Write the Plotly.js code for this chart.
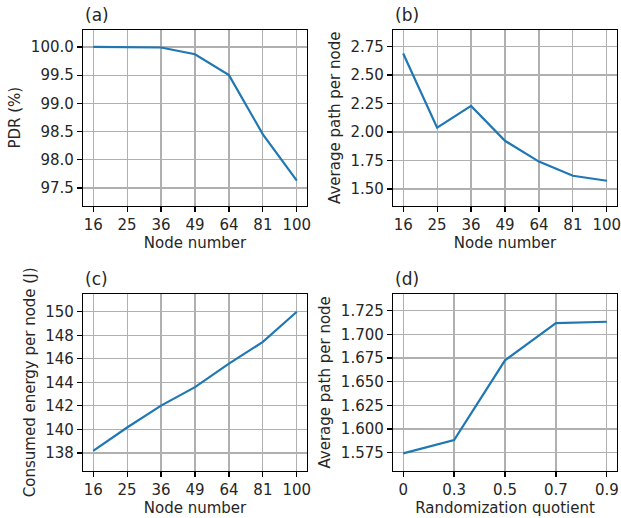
<!DOCTYPE html>
<html>
<head>
<meta charset="utf-8">
<script src="https://cdn.plot.ly/plotly-3.0.1.min.js"></script>
<style>html,body{margin:0;padding:0;background:#fff;}#chart{width:621px;height:518px;}</style>
</head>
<body>
<div id="chart"></div>
<script>
// ---- data ----
const nodeNumbers = ["16", "25", "36", "49", "64", "81", "100"];
const pdrValues = [100.0, 100.0, 99.99, 99.87, 99.5, 98.45, 97.63];
const avgPathByNode = [2.688, 2.038, 2.229, 1.923, 1.741, 1.617, 1.573];
const energyPerNode = [138.17, 140.16, 142.02, 143.59, 145.59, 147.44, 150.0];
const randQuotients = ["0", "0.3", "0.5", "0.7", "0.9"];
const avgPathByRand = [1.5743, 1.5883, 1.6725, 1.7118, 1.7133];

const pdrTicks = [97.5, 98.0, 98.5, 99.0, 99.5, 100.0];
const pathTicks = [1.50, 1.75, 2.00, 2.25, 2.50, 2.75];
const energyTicks = [138, 140, 142, 144, 146, 148, 150];
const randPathTicks = [1.575, 1.600, 1.625, 1.650, 1.675, 1.700, 1.725];

const lineColor = "#1f77b4";
const font = {family: "DejaVu Sans, sans-serif", size: 15, color: "#262626"};

function trace(x, y, xa, ya) {
  return {x: x, y: y, xaxis: xa, yaxis: ya, type: "scatter", mode: "lines",
          line: {color: lineColor, width: 2.2}, hoverinfo: "skip"};
}

const data = [
  trace(nodeNumbers, pdrValues, "x", "y"),
  trace(nodeNumbers, avgPathByNode, "x2", "y2"),
  trace(nodeNumbers, energyPerNode, "x3", "y3"),
  trace(randQuotients, avgPathByRand, "x4", "y4")
];

const W = 621, H = 518;
const leftX = [83 / W, 307 / W];
const rightX = [393 / W, 617 / W];
const topY = [1 - 205.5 / H, 1 - 30 / H];
const botY = [1 - 470.7 / H, 1 - 294 / H];

function xax(domain, anchor, cats, title) {
  return {
    domain: domain, anchor: anchor, type: "category",
    categoryorder: "array", categoryarray: cats,
    range: cats.length === 7 ? [-0.3, 6.3] : [-0.2, 4.2],
    showline: true, mirror: true, linecolor: "#000", linewidth: 1.2,
    ticks: "outside", ticklen: 5, tickwidth: 1.2, tickcolor: "#000",
    showgrid: true, gridcolor: "#b0b0b0", gridwidth: 1.2,
    zeroline: false, tickfont: font,
    title: {text: title, font: font, standoff: 4}
  };
}
function yax(domain, anchor, range, ticks, fmt, title) {
  return {
    domain: domain, anchor: anchor, range: range,
    tickmode: "array", tickvals: ticks, ticktext: ticks.map(v => v.toFixed(fmt)),
    showline: true, mirror: true, linecolor: "#000", linewidth: 1.2,
    ticks: "outside", ticklen: 5, tickwidth: 1.2, tickcolor: "#000",
    showgrid: true, gridcolor: "#b0b0b0", gridwidth: 1.2,
    zeroline: false, tickfont: font,
    title: {text: title, font: font, standoff: 6}
  };
}

function panelLabel(text, xd, yd) {
  return {text: text, xref: "paper", yref: "paper", x: xd[0], y: yd[1],
          xanchor: "left", yanchor: "bottom", yshift: 3, showarrow: false,
          font: {family: "DejaVu Sans, sans-serif", size: 17, color: "#262626"}};
}

const layout = {
  width: W, height: H,
  margin: {l: 0, r: 0, t: 0, b: 0},
  paper_bgcolor: "#fff", plot_bgcolor: "#fff",
  showlegend: false, font: font,
  xaxis: xax(leftX, "y", nodeNumbers, "Node number"),
  yaxis: yax(topY, "x", [97.19, 100.30], pdrTicks, 1, "PDR (%)"),
  xaxis2: xax(rightX, "y2", nodeNumbers, "Node number"),
  yaxis2: yax(topY, "x2", [1.356, 2.894], pathTicks, 2, "Average path per node"),
  xaxis3: xax(leftX, "y3", nodeNumbers, "Node number"),
  yaxis3: yax(botY, "x3", [136.49, 151.51], energyTicks, 0, "Consumed energy per node (J)"),
  xaxis4: xax(rightX, "y4", randQuotients, "Randomization quotient"),
  yaxis4: yax(botY, "x4", [1.556, 1.7426], randPathTicks, 3, "Average path per node"),
  annotations: [
    panelLabel("(a)", leftX, topY),
    panelLabel("(b)", rightX, topY),
    panelLabel("(c)", leftX, botY),
    panelLabel("(d)", rightX, botY)
  ]
};

Plotly.newPlot("chart", data, layout, {staticPlot: true, displayModeBar: false});
</script>
</body>
</html>
